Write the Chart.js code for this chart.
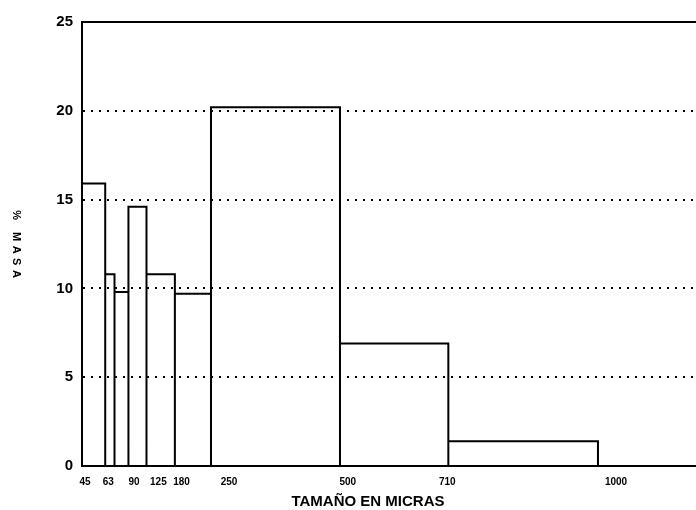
<!DOCTYPE html>
<html>
<head>
<meta charset="utf-8">
<script src="https://cdn.jsdelivr.net/npm/chart.js@4.4.1/dist/chart.umd.min.js"></script>
<style>
  html, body { margin: 0; padding: 0; background: #fff; overflow: hidden; }
  #wrap { width: 696px; height: 510px; }
</style>
</head>
<body>
<div id="wrap"><canvas id="c" width="696" height="510"></canvas></div>
<script>
// Sieve size classes (microns) and the mass percentage retained in each class
const binEdges = [0, 45, 63, 90, 125, 180, 250, 500, 710, 1000];
const massPct = [15.9, 10.8, 9.8, 14.6, 10.8, 9.7, 20.2, 6.9, 1.4];

// Size labels under the axis and the axis values they sit at
const tickLabels = ['45', '63', '90', '125', '180', '250', '500', '710', '1000'];
const tickAt = [6, 51, 101, 148, 193, 285, 515, 708, 1035];

// Outline of each class rectangle, traced on the chart scales
const outline = [];
massPct.forEach((h, i) => {
  const lo = binEdges[i], hi = binEdges[i + 1];
  outline.push({x: lo, y: 0}, {x: lo, y: h}, {x: hi, y: h}, {x: hi, y: 0});
});

const FONT = "'Liberation Sans', Arial, sans-serif";

// Axis captions: the vertical one reads top to bottom
const captions = {
  id: 'captions',
  afterDraw(chart) {
    const {ctx, chartArea} = chart;
    ctx.save();
    ctx.fillStyle = '#000';

    // horizontal caption, a little left of the plot centre
    ctx.font = 'bold 15px ' + FONT;
    ctx.textAlign = 'center';
    ctx.textBaseline = 'middle';
    ctx.fillText('TAMAÑO EN MICRAS', (chartArea.left + chartArea.right) / 2 - 21, chart.height - 8);

    // vertical caption
    const text = '% MASA';
    ctx.font = 'bold 11px ' + FONT;
    ctx.textAlign = 'left';
    const spacing = 4.5;
    let total = 0;
    for (const ch of text) total += ctx.measureText(ch).width + spacing;
    total -= spacing;
    const cy = (chartArea.top + chartArea.bottom) / 2;
    ctx.translate(16, cy - total / 2);
    ctx.rotate(Math.PI / 2);
    let pos = 0;
    for (const ch of text) {
      ctx.fillText(ch, pos, 0);
      pos += ctx.measureText(ch).width + spacing;
    }
    ctx.restore();
  }
};

new Chart(document.getElementById('c'), {
  type: 'scatter',
  data: {
    datasets: [{
      data: outline,
      showLine: true,
      borderColor: '#000',
      borderWidth: 2,
      pointRadius: 0,
      pointHoverRadius: 0,
      tension: 0,
      fill: false
    }]
  },
  options: {
    responsive: false,
    animation: false,
    devicePixelRatio: 1,
    layout: { padding: { left: 56, top: 22, right: 0, bottom: 0 } },
    plugins: { legend: { display: false }, tooltip: { enabled: false } },
    scales: {
      x: {
        type: 'linear',
        position: 'bottom',
        min: 0,
        max: 1190,
        afterFit: (scale) => { scale.height = 44; },
        afterBuildTicks: (scale) => { scale.ticks = tickAt.map(v => ({value: v})); },
        ticks: {
          autoSkip: false,
          maxRotation: 0,
          padding: 10,
          color: '#000',
          font: { family: FONT, size: 10, weight: 'bold' },
          callback: (v, i) => tickLabels[i]
        },
        grid: { display: false, drawTicks: false },
        border: { display: true, color: '#000', width: 2 }
      },
      x2: {
        type: 'linear',
        position: 'top',
        min: 0,
        max: 1190,
        ticks: { display: false },
        grid: { display: false, drawTicks: false },
        border: { display: true, color: '#000', width: 2 }
      },
      y: {
        min: 0,
        max: 25,
        afterFit: (scale) => { scale.width = 26; },
        ticks: {
          stepSize: 5,
          padding: 9,
          color: '#000',
          font: { family: FONT, size: 15, weight: 'bold' }
        },
        grid: {
          drawTicks: false,
          lineWidth: 2,
          color: (ctx) => (ctx.tick && ctx.tick.value > 0 && ctx.tick.value < 25) ? '#000' : 'rgba(0,0,0,0)'
        },
        border: { display: true, color: '#000', width: 2, dash: [2, 6] }
      }
    }
  },
  plugins: [captions]
});
</script>
</body>
</html>
